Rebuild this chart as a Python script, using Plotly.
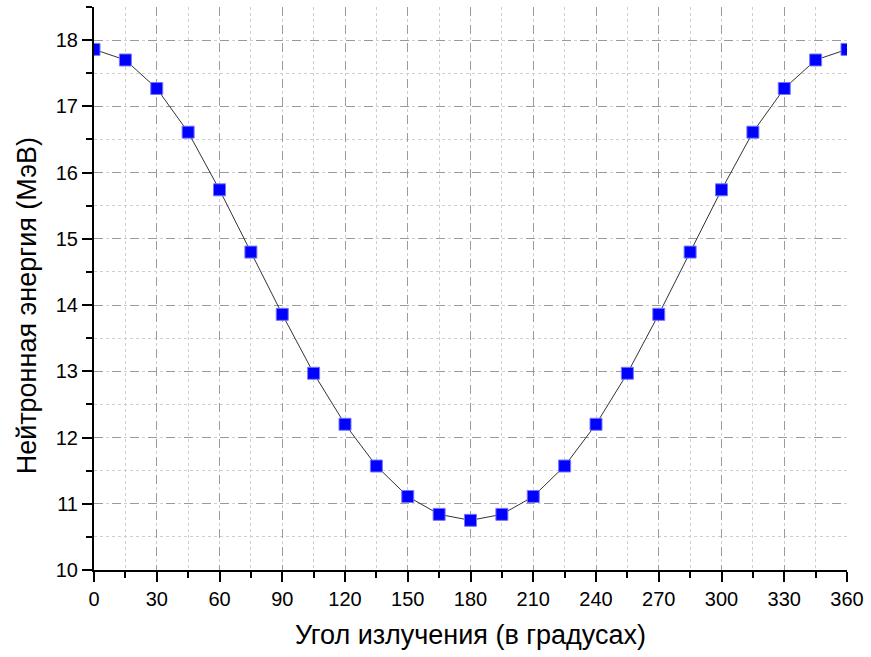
import plotly.graph_objects as go

# Emission angle (degrees) and neutron energy (MeV)
angles = [0, 15, 30, 45, 60, 75, 90, 105, 120, 135, 150, 165, 180,
          195, 210, 225, 240, 255, 270, 285, 300, 315, 330, 345, 360]
energy = [17.86, 17.70, 17.27, 16.61, 15.74, 14.80, 13.86, 12.97, 12.20, 11.57, 11.11, 10.84, 10.75,
          10.84, 11.11, 11.57, 12.20, 12.97, 13.86, 14.80, 15.74, 16.61, 17.27, 17.70, 17.86]

x_ticks = list(range(0, 361, 30))
y_ticks = list(range(10, 19))

fig = go.Figure(
    go.Scatter(
        x=angles, y=energy, mode="lines+markers",
        line=dict(color="#333333", width=1),
        marker=dict(symbol="square", size=12, color="#0000ff",
                    line=dict(color="#7777ff", width=1)),
        cliponaxis=True,
    )
)

font_family = "Liberation Sans, Arial, sans-serif"
axis_common = dict(
    showline=True, linecolor="black", linewidth=2,
    ticks="outside", ticklen=10, tickwidth=2, tickcolor="black",
    showgrid=True, gridcolor="#9a9a9a", gridwidth=1, griddash="dash",
    zeroline=False, mirror=False,
    tickfont=dict(family=font_family, size=20, color="black"),
)

fig.update_xaxes(
    range=[0, 360], tickvals=x_ticks, ticktext=[str(v) for v in x_ticks],
    minor=dict(dtick=15, tick0=0, ticks="outside", ticklen=6, tickwidth=2, tickcolor="black",
               showgrid=True, gridcolor="#cfcfcf", gridwidth=1, griddash="dot"),
    title=dict(text="Угол излучения (в градусах)",
               font=dict(family=font_family, size=27, color="black"), standoff=16),
    **axis_common,
)
fig.update_yaxes(
    range=[10, 18.5], tickvals=y_ticks, ticktext=[str(v) for v in y_ticks],
    minor=dict(dtick=0.5, tick0=10, ticks="outside", ticklen=6, tickwidth=2, tickcolor="black",
               showgrid=True, gridcolor="#cfcfcf", gridwidth=1, griddash="dot"),
    **axis_common,
)

# Vertical axis title, placed as a rotated annotation
fig.add_annotation(
    text="Нейтронная энергия (МэВ)",
    xref="paper", yref="paper", x=-0.089, y=0.47,
    xanchor="center", yanchor="middle", textangle=-90, showarrow=False,
    font=dict(family=font_family, size=27, color="black"),
)

fig.update_layout(
    width=871, height=657,
    margin=dict(l=94, r=22, t=7, b=87),
    plot_bgcolor="white", paper_bgcolor="white",
    showlegend=False,
)

fig.write_html("out.html")
